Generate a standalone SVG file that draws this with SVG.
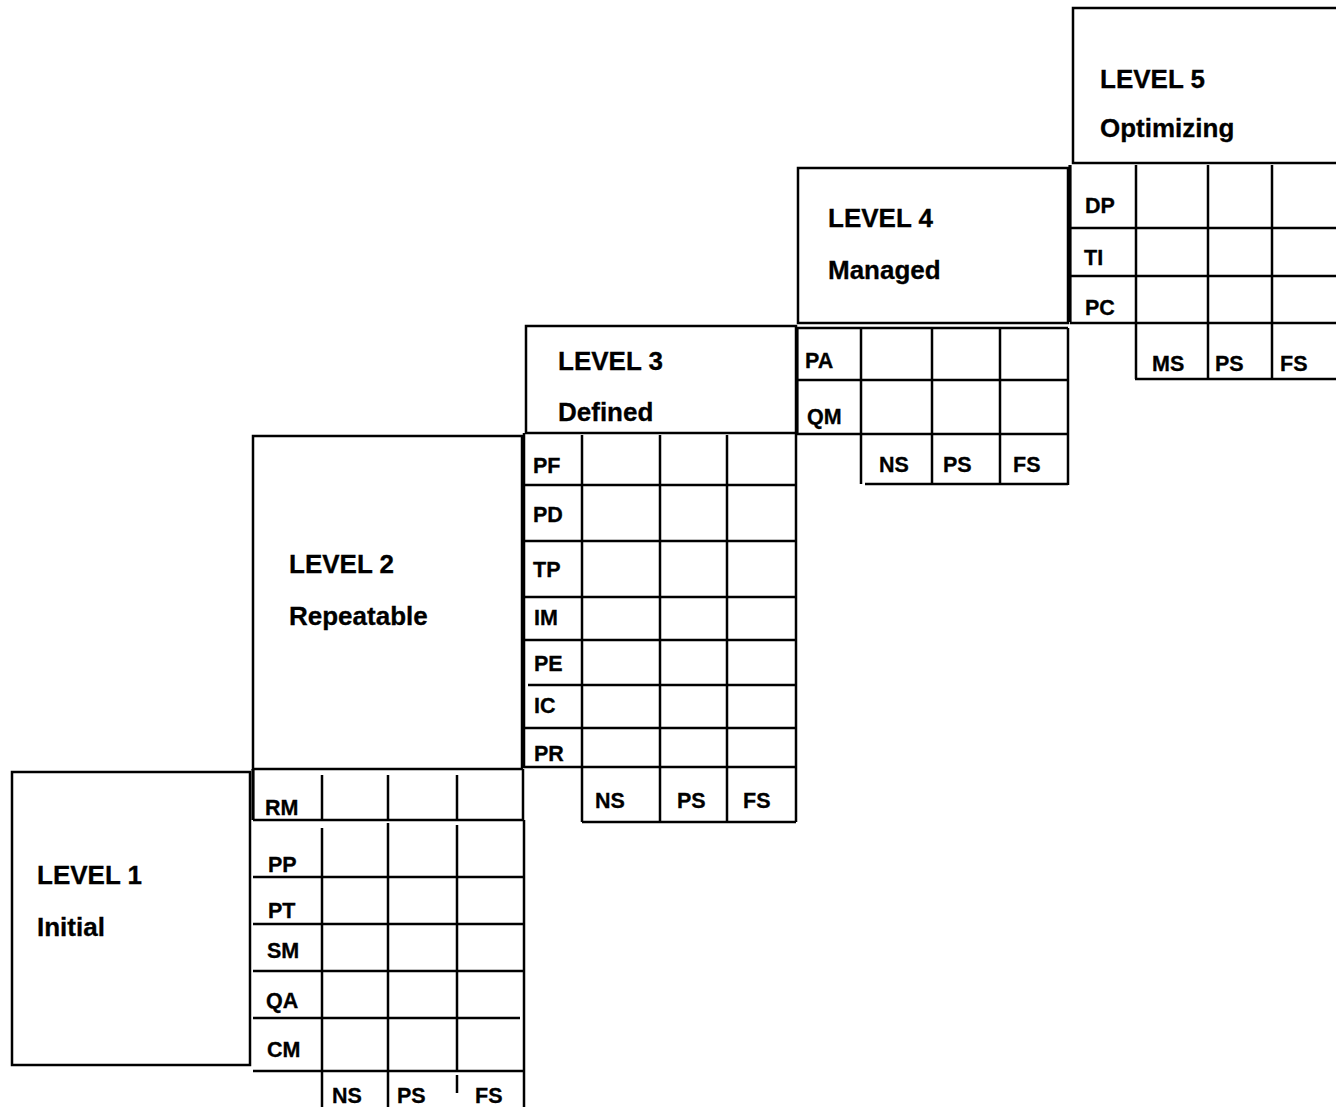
<svg xmlns="http://www.w3.org/2000/svg" width="1336" height="1109" viewBox="0 0 1336 1109">
<style>
.box{fill:#fff;stroke:#000;stroke-width:2.5}
.ln{stroke:#000;stroke-width:2.5;fill:none}
.thk{stroke:#000;stroke-width:3.2;fill:none}
.h{font-family:"Liberation Sans",Arial,sans-serif;font-weight:bold;font-size:26px;fill:#000;stroke:#000;stroke-width:0.3}
.l{font-family:"Liberation Sans",Arial,sans-serif;font-weight:bold;font-size:21.5px;fill:#000;stroke:#000;stroke-width:0.3}
</style>
<rect width="1336" height="1109" fill="#fff"/>

<g id="level1">
<rect class="box" x="12" y="772" width="238" height="293"/>
<text class="h" x="37" y="884">LEVEL 1</text>
<text class="h" x="37" y="936">Initial</text>
</g>

<g id="level2">
<rect class="box" x="253" y="436" width="269" height="333"/>
<text class="h" x="289" y="573">LEVEL 2</text>
<text class="h" x="289" y="625">Repeatable</text>
<g id="level2-grid">
<path class="thk" d="M253 769V820"/>
<path class="ln" d="M523 769V820M253 820H524M322 775V820M388 775V820M457 775V820"/>
<path class="ln" d="M322 828V1107M388 823V1107M457 825V1071M457 1075V1093M524 820V1107"/>
<path class="ln" d="M253 877H524M253 924H524M253 971H524M253 1018H520M253 1071H524"/>
<text class="l" x="265" y="815">RM</text>
<text class="l" x="268" y="872">PP</text>
<text class="l" x="268" y="918">PT</text>
<text class="l" x="267" y="958">SM</text>
<text class="l" x="266" y="1008">QA</text>
<text class="l" x="267" y="1057">CM</text>
<text class="l" x="332" y="1103">NS</text>
<text class="l" x="397" y="1103">PS</text>
<text class="l" x="475" y="1103">FS</text>
</g>
</g>

<g id="level3">
<rect class="box" x="526" y="326" width="270" height="107"/>
<text class="h" x="558" y="370">LEVEL 3</text>
<text class="h" x="558" y="421">Defined</text>
<g id="level3-grid">
<path class="ln" d="M524 433V768"/>
<path class="ln" d="M582 435V822M660 435V822M727 435V822M796 433V822"/>
<path class="ln" d="M524 485H796M524 541H796M524 597H796M524 640H796M528 685H796M524 728H796M524 767H796M582 822H796"/>
<text class="l" x="533" y="473">PF</text>
<text class="l" x="533" y="522">PD</text>
<text class="l" x="533" y="577">TP</text>
<text class="l" x="534" y="625">IM</text>
<text class="l" x="534" y="671">PE</text>
<text class="l" x="534" y="713">IC</text>
<text class="l" x="534" y="761">PR</text>
<text class="l" x="595" y="808">NS</text>
<text class="l" x="677" y="808">PS</text>
<text class="l" x="743" y="808">FS</text>
</g>
</g>

<g id="level4">
<rect class="box" x="798" y="168" width="270" height="155"/>
<text class="h" x="828" y="227">LEVEL 4</text>
<text class="h" x="828" y="279">Managed</text>
<g id="level4-grid">
<path class="thk" d="M797 327V434"/>
<path class="ln" d="M797 328H1068M861 328V484M932 328V484M1000 328V484M1068 328V485"/>
<path class="ln" d="M797 380H1068M797 434H1068M865 484H1068"/>
<text class="l" x="805" y="368">PA</text>
<text class="l" x="807" y="424">QM</text>
<text class="l" x="879" y="472">NS</text>
<text class="l" x="943" y="472">PS</text>
<text class="l" x="1013" y="472">FS</text>
</g>
</g>

<g id="level5">
<rect class="box" x="1073" y="8" width="290" height="155"/>
<text class="h" x="1100" y="88">LEVEL 5</text>
<text class="h" x="1100" y="137">Optimizing</text>
<g id="level5-grid">
<path class="thk" d="M1070 165V322"/>
<path class="ln" d="M1136 165V379M1208 165V379M1272 165V379"/>
<path class="ln" d="M1070 228H1336M1070 276H1336M1070 323H1336M1135 379H1336"/>
<text class="l" x="1085" y="213">DP</text>
<text class="l" x="1084" y="265">TI</text>
<text class="l" x="1085" y="315">PC</text>
<text class="l" x="1152" y="371">MS</text>
<text class="l" x="1215" y="371">PS</text>
<text class="l" x="1280" y="371">FS</text>
</g>
</g>
</svg>
